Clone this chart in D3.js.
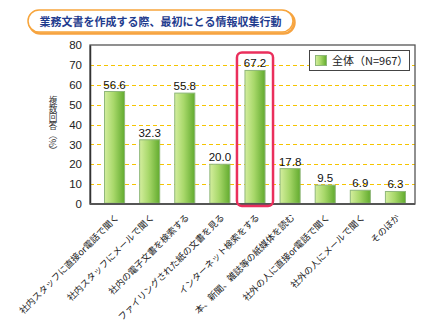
<!DOCTYPE html>
<html>
<head>
<meta charset="utf-8">
<script src="https://cdn.jsdelivr.net/npm/d3@7"></script>
<style>
  html, body { margin: 0; padding: 0; background: #fff; }
  svg { display: block; font-family: "Noto Sans CJK JP", "Noto Sans", sans-serif; }
</style>
</head>
<body>
<svg id="chart" width="430" height="325"></svg>
<script>
// Survey: first action when gathering information for a business document
const titleText = "業務文書を作成する際、最初にとる情報収集行動";
const categories = [
  "社内スタッフに直接or電話で聞く",
  "社内スタッフにメールで聞く",
  "社内の電子文書を検索する",
  "ファイリングされた紙の文書を見る",
  "インターネット検索をする",
  "本、新聞、雑誌等の紙媒体を読む",
  "社外の人に直接or電話で聞く",
  "社外の人にメールで聞く",
  "そのほか"
];
const values = [56.6, 32.3, 55.8, 20.0, 67.2, 17.8, 9.5, 6.9, 6.3];
const yTicks = [0, 10, 20, 30, 40, 50, 60, 70, 80];
const legendLabel = "全体（N=967）";
const yTitle = "複数回答（%）";
const highlighted = "インターネット検索をする";

const svg = d3.select("#chart");
const plot = { left: 90, right: 415, top: 45, bottom: 204 };

const x = d3.scaleBand()
  .domain(categories)
  .range([97, 413])
  .paddingInner(0.4)
  .paddingOuter(0.2);

const y = d3.scaleLinear()
  .domain([0, 80])
  .range([plot.bottom, plot.top]);

// Gradients
const defs = svg.append("defs");
const grad = defs.append("linearGradient").attr("id", "barGrad")
  .attr("x1", "0%").attr("x2", "100%").attr("y1", "0%").attr("y2", "0%");
grad.append("stop").attr("offset", "0%").attr("stop-color", "#d4ee9e");
grad.append("stop").attr("offset", "45%").attr("stop-color", "#a8d86a");
grad.append("stop").attr("offset", "100%").attr("stop-color", "#62ab2e");

// Title pill
const title = svg.append("g");
title.append("rect")
  .attr("x", 29.5).attr("y", 11.5).attr("width", 265).attr("height", 22).attr("rx", 11)
  .attr("fill", "none").attr("stroke", "#f6a341").attr("stroke-width", 2.5);
title.append("rect")
  .attr("x", 28).attr("y", 10).attr("width", 265).attr("height", 22).attr("rx", 11)
  .attr("fill", "#fff").attr("stroke", "#f7a53c").attr("stroke-width", 1.5);
title.append("text")
  .attr("x", 160.5).attr("y", 25.5)
  .attr("text-anchor", "middle")
  .attr("font-size", 11).attr("font-weight", "bold")
  .attr("fill", "#1f3c8e")
  .text(titleText);

// Gridlines
svg.append("g")
  .selectAll("line")
  .data(yTicks.filter(t => t > 0 && t < 80))
  .join("line")
  .attr("x1", plot.left).attr("x2", plot.right)
  .attr("y1", d => Math.round(y(d)) + 0.5).attr("y2", d => Math.round(y(d)) + 0.5)
  .attr("stroke", "#f5c400").attr("stroke-width", 1)
  .attr("stroke-dasharray", "4,3");

// Plot frame
svg.append("rect")
  .attr("x", plot.left).attr("y", plot.top)
  .attr("width", plot.right - plot.left).attr("height", plot.bottom - plot.top)
  .attr("fill", "none").attr("stroke", "#555").attr("stroke-width", 1.3);

// Y axis
const yAxis = d3.axisLeft(y).tickValues(yTicks).tickSize(0).tickPadding(8);
const yg = svg.append("g").attr("transform", `translate(${plot.left},0)`).call(yAxis);
yg.select(".domain").attr("stroke", "#333").attr("stroke-width", 1.5);
yg.selectAll("text").attr("font-size", 11.5).attr("fill", "#222")
  .attr("font-family", "'Liberation Sans', Arial, sans-serif");

// Bars
svg.append("g")
  .selectAll("rect")
  .data(values)
  .join("rect")
  .attr("x", (d, i) => x(categories[i]) + 0.5)
  .attr("y", d => y(d))
  .attr("width", x.bandwidth() - 1)
  .attr("height", d => y(0) - y(d) - 0.8)
  .attr("fill", "url(#barGrad)")
  .attr("stroke", "#8fb77a").attr("stroke-width", 1);

// Value labels
svg.append("g")
  .selectAll("text")
  .data(values)
  .join("text")
  .attr("x", (d, i) => x(categories[i]) + x.bandwidth() / 2)
  .attr("y", d => y(d) - 3)
  .attr("text-anchor", "middle")
  .attr("font-size", 11.5)
  .attr("font-family", "'Liberation Sans', Arial, sans-serif")
  .attr("fill", "#111")
  .text(d => d.toFixed(1));

// Bottom axis line
svg.append("line")
  .attr("x1", plot.left).attr("x2", plot.right)
  .attr("y1", plot.bottom).attr("y2", plot.bottom)
  .attr("stroke", "#555").attr("stroke-width", 2);

// Category labels, rotated
svg.append("g")
  .selectAll("text")
  .data(categories)
  .join("text")
  .attr("transform", d => `translate(${x(d) + x.bandwidth() / 2 + 5},218) rotate(-45)`)
  .attr("text-anchor", "end")
  .attr("font-size", 9.1)
  .attr("fill", "#222")
  .text(d => d);

// Highlight box around the top answer
const hi = values[categories.indexOf(highlighted)];
svg.append("rect")
  .attr("x", x(highlighted) - 7.5)
  .attr("y", y(hi) - 18)
  .attr("width", x.bandwidth() + 15)
  .attr("height", y(0) - y(hi) + 20)
  .attr("rx", 5)
  .attr("fill", "none")
  .attr("stroke", "#ea2f5c").attr("stroke-width", 2.5);

// Legend
const lg = svg.append("g");
lg.append("rect")
  .attr("x", 309.5).attr("y", 50.5).attr("width", 100).attr("height", 20)
  .attr("fill", "#fff").attr("stroke", "#444").attr("stroke-width", 1);
lg.append("rect")
  .attr("x", 315.5).attr("y", 55.5).attr("width", 11).attr("height", 10)
  .attr("fill", "url(#barGrad)").attr("stroke", "#8fb77a");
lg.append("text")
  .attr("x", 332).attr("y", 64.5)
  .attr("font-size", 11).attr("fill", "#222")
  .text(legendLabel);

// Y axis title, set in vertical writing mode
svg.append("text")
  .attr("x", 53).attr("y", 96)
  .attr("fill", "#333").attr("font-size", 8.6)
  .style("writing-mode", "vertical-rl")
  .style("text-orientation", "mixed")
  .text(yTitle);
</script>
</body>
</html>
